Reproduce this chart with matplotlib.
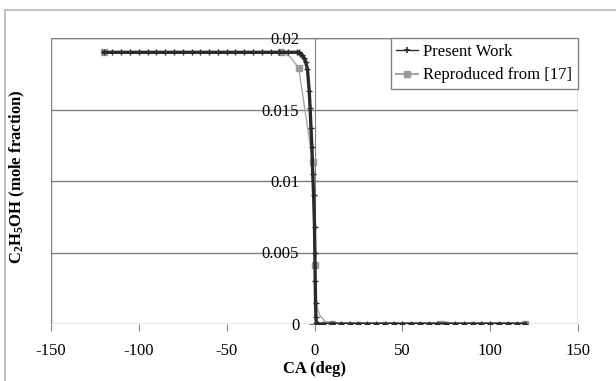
import matplotlib.pyplot as plt
from matplotlib.lines import Line2D
from matplotlib.patches import Rectangle

plt.rcParams['font.family'] = ['Liberation Serif', 'DejaVu Serif']
plt.rcParams['mathtext.default'] = 'regular'

# present work: crank angle (deg) and ethanol mole fraction
ca_pw = [-120, -115, -110, -105, -100, -95, -90, -85, -80, -75, -70, -65,
         -60, -55, -50, -45, -40, -35, -30, -25, -20, -15, -10,
         -9, -8, -7, -6, -5, -4, -3, -2.5, -2, -1.5, -1, -0.5,
         0, 0.2, 0.4, 0.6, 0.8, 1, 2, 5, 10, 15, 20, 25, 30, 35, 40, 45,
         50, 55, 60, 65, 70, 75, 80, 85, 90, 95, 100, 105, 110, 115, 120]
x_pw = [0.0190, 0.0190, 0.0190, 0.0190, 0.0190, 0.0190, 0.0190, 0.0190,
        0.0190, 0.0190, 0.0190, 0.0190, 0.0190, 0.0190, 0.0190, 0.0190,
        0.0190, 0.0190, 0.0190, 0.0190, 0.0190, 0.0190, 0.0190,
        0.0190, 0.0189, 0.0188, 0.0186, 0.0183, 0.0178, 0.0163, 0.0151,
        0.0137, 0.0124, 0.0105, 0.0090,
        0.0068, 0.0050, 0.0030, 0.0015, 0.0005, 0.0001, 0.0, 0.0, 0.0, 0.0,
        0.0, 0.0, 0.0, 0.0, 0.0, 0.0, 0.0, 0.0, 0.0, 0.0, 0.0, 0.0, 0.0,
        0.0, 0.0, 0.0, 0.0, 0.0, 0.0, 0.0, 0.0]

# reproduced from [17]
ca_ref = [-120, -19, -14, -9, -1, 0.3, 1.2, 3, 6, 10, 72, 120]
x_ref = [0.0190, 0.0190, 0.0187, 0.0179, 0.0113, 0.0041, 0.0013, 0.0006,
         0.0002, 0.0, 0.0, 0.0]
ref_marked = [0, 1, 3, 4, 5, 9, 10, 11]

fig = plt.figure(figsize=(6.16, 3.81), dpi=100)
fig.patches.append(Rectangle((5 / 616, -0.1), 1.2, 1 - 10 / 381 + 0.1,
                             transform=fig.transFigure, fill=False,
                             edgecolor='#b4b4b4', linewidth=1.2))

ax = fig.add_axes([51 / 616, 1 - 324 / 381, 527 / 616, 286 / 381])
ax.set_xlim(-150, 150)
ax.set_ylim(0, 0.02)

for y in [0.005, 0.01, 0.015, 0.02]:
    ax.axhline(y, color='#808080', linewidth=1, zorder=1)
ax.add_patch(Rectangle((0, 0), 1, 1, transform=ax.transAxes, fill=False,
                       edgecolor='#808080', linewidth=1, zorder=1))

ax.plot(ca_ref, x_ref, color='#a6a6a6', linewidth=1, marker='s',
        markersize=5, markerfacecolor='#999999', markeredgecolor='#999999',
        markevery=ref_marked, zorder=3)
ax.plot(ca_pw, x_pw, color='#2a2a2a', linewidth=2.4, marker='+',
        markersize=4, markeredgewidth=1, zorder=4)

for s in ['top', 'right', 'bottom']:
    ax.spines[s].set_visible(False)
ax.spines['left'].set_position(('data', 0))
ax.spines['left'].set_color('#808080')
ax.spines['left'].set_zorder(2)

ax.set_xticks([-150, -100, -50, 0, 50, 100, 150])
ax.set_xticklabels(['-150', '-100', '-50', '0', '50', '100', '150'])
ax.set_yticks([0, 0.005, 0.01, 0.015, 0.02])
ax.set_yticklabels(['0', '0.005', '0.01', '0.015', '0.02'])
ax.tick_params(axis='x', direction='out', length=5, color='#808080',
               labelsize=12, pad=9)
ax.tick_params(axis='y', direction='inout', length=8, color='#808080',
               labelsize=12, pad=7)

ax.set_xlabel('CA (deg)', fontsize=12, fontweight='bold', labelpad=1)
fig.text(17 / 616, 1 - 177 / 381, 'C$_2$H$_5$OH (mole fraction)',
         rotation=90, ha='center', va='center', fontsize=12,
         fontweight='bold')

# legend handles drawn thin, as in the series' marker style
handles = [
    Line2D([], [], color='#2a2a2a', linewidth=1, marker='+', markersize=5,
           markeredgewidth=1.2),
    Line2D([], [], color='#a6a6a6', linewidth=1.5, marker='s', markersize=5,
           markerfacecolor='#999999', markeredgecolor='#999999'),
]
leg = ax.legend(handles, ['Present Work', 'Reproduced from [17]'],
                loc='upper right', borderaxespad=0, fancybox=False,
                framealpha=1, edgecolor='#808080', fontsize=12,
                handlelength=1.3, handletextpad=0.3, borderpad=0.35,
                labelspacing=0.45)
leg.get_frame().set_linewidth(1)

fig.savefig('out.png', dpi=100)
